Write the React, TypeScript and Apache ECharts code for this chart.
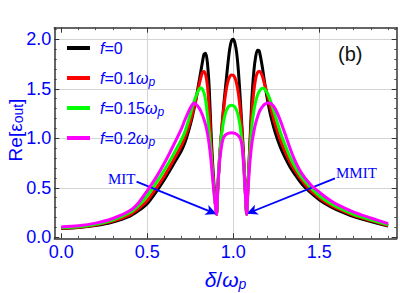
import React, { useEffect, useRef } from 'react';
import * as echarts from 'echarts';

const deltaValues = [
  0, 0.1, 0.2, 0.3, 0.4, 0.45, 0.5, 0.55, 0.6, 0.65,
  0.7, 0.72, 0.74, 0.76, 0.77, 0.78, 0.8, 0.81, 0.82, 0.83,
  0.84, 0.85, 0.86, 0.87, 0.88, 0.89, 0.895, 0.903, 0.91, 0.92,
  0.93, 0.94, 0.95, 0.96, 0.97, 0.98, 0.99, 1.0, 1.01, 1.02,
  1.03, 1.04, 1.05, 1.06, 1.07, 1.078, 1.085, 1.095, 1.105, 1.11,
  1.12, 1.13, 1.14, 1.15, 1.16, 1.17, 1.18, 1.19, 1.2, 1.21,
  1.22, 1.24, 1.26, 1.28, 1.3, 1.33, 1.36, 1.4, 1.45, 1.5,
  1.55, 1.6, 1.7, 1.8, 1.9,
];

const reF0 = [
  0.09, 0.1, 0.12, 0.155, 0.215, 0.27, 0.34, 0.455, 0.585, 0.73,
  0.88, 0.96, 1.07, 1.2, 1.28, 1.36, 1.56, 1.66, 1.76, 1.85,
  1.86, 1.76, 1.52, 1.1, 0.75, 0.48, 0.37, 0.23, 0.48, 0.78,
  1.02, 1.24, 1.43, 1.6, 1.77, 1.91, 1.985, 2.0, 1.96, 1.86,
  1.68, 1.42, 1.13, 0.83, 0.47, 0.23, 0.5, 0.88, 1.28, 1.45,
  1.68, 1.82, 1.89, 1.885, 1.81, 1.71, 1.59, 1.48, 1.38, 1.29,
  1.21, 1.08, 0.975, 0.885, 0.81, 0.71, 0.63, 0.535, 0.45, 0.38,
  0.325, 0.28, 0.21, 0.16, 0.115,
];

const reF01 = [
  0.092, 0.102, 0.125, 0.163, 0.23, 0.29, 0.37, 0.49, 0.62, 0.77,
  0.93, 1.01, 1.11, 1.23, 1.3, 1.37, 1.53, 1.6, 1.66, 1.675,
  1.64, 1.53, 1.3, 0.98, 0.68, 0.45, 0.36, 0.23, 0.49, 0.8,
  1.02, 1.22, 1.38, 1.5, 1.58, 1.625, 1.64, 1.638, 1.61, 1.55,
  1.45, 1.3, 1.08, 0.8, 0.47, 0.23, 0.5, 0.85, 1.18, 1.3,
  1.48, 1.6, 1.66, 1.677, 1.665, 1.625, 1.56, 1.5, 1.43, 1.36,
  1.29, 1.16, 1.05, 0.955, 0.87, 0.76, 0.67, 0.57, 0.47, 0.4,
  0.34, 0.295, 0.222, 0.168, 0.12,
];

const reF015 = [
  0.097, 0.107, 0.132, 0.175, 0.25, 0.32, 0.42, 0.545, 0.68, 0.83,
  0.99, 1.07, 1.18, 1.3, 1.36, 1.41, 1.49, 1.51, 1.5, 1.46,
  1.38, 1.24, 1.07, 0.87, 0.63, 0.43, 0.35, 0.23, 0.5, 0.8,
  1.0, 1.13, 1.22, 1.28, 1.315, 1.33, 1.335, 1.33, 1.315, 1.28,
  1.22, 1.12, 0.97, 0.76, 0.46, 0.23, 0.48, 0.8, 1.05, 1.15,
  1.28, 1.37, 1.43, 1.47, 1.495, 1.505, 1.5, 1.48, 1.45, 1.41,
  1.36, 1.25, 1.14, 1.03, 0.94, 0.81, 0.71, 0.6, 0.5, 0.42,
  0.36, 0.31, 0.233, 0.177, 0.127,
];

const reF02 = [
  0.105, 0.116, 0.143, 0.19, 0.27, 0.35, 0.47, 0.6, 0.75, 0.92,
  1.1, 1.19, 1.27, 1.335, 1.357, 1.35, 1.31, 1.28, 1.24, 1.19,
  1.13, 1.05, 0.94, 0.79, 0.6, 0.42, 0.34, 0.23, 0.5, 0.75,
  0.9, 0.99, 1.025, 1.04, 1.05, 1.054, 1.055, 1.054, 1.05, 1.04,
  1.025, 1.0, 0.94, 0.74, 0.45, 0.23, 0.45, 0.72, 0.9, 0.97,
  1.07, 1.15, 1.21, 1.26, 1.295, 1.32, 1.34, 1.35, 1.355, 1.357,
  1.35, 1.31, 1.24, 1.15, 1.05, 0.9, 0.77, 0.64, 0.53, 0.455,
  0.39, 0.335, 0.255, 0.195, 0.138,
];

const seriesNames = ['f=0', 'f=0.1ωp', 'f=0.15ωp', 'f=0.2ωp'];
const seriesColors = ['#000000', '#ff0000', '#00ff00', '#ff00ff'];
const seriesValues = [reF0, reF01, reF015, reF02];

const xMajorTicks = [0, 0.5, 1.0, 1.5];
const xMinorTicks = [0, 0.1, 0.2, 0.3, 0.4, 0.5, 0.6, 0.7, 0.8, 0.9, 1.0, 1.1, 1.2, 1.3, 1.4, 1.5, 1.6, 1.7, 1.8, 1.9];
const xGridLines = [0.5, 1.0, 1.5];
const yMajorTicks = [0, 0.5, 1.0, 1.5, 2.0];
const yMinorTicks = [0, 0.1, 0.2, 0.3, 0.4, 0.5, 0.6, 0.7, 0.8, 0.9, 1.0, 1.1, 1.2, 1.3, 1.4, 1.5, 1.6, 1.7, 1.8, 1.9, 2.0, 2.1];
const yGridLines = [0.5, 1.0, 1.5, 2.0];

const mitArrow = [[0.438, 0.562], [0.903, 0.235]];
const mmitArrow = [[1.591, 0.596], [1.078, 0.238]];

const X_MIN = -0.04;
const X_MAX = 1.95;
const Y_MIN = -0.01;
const Y_MAX = 2.117;

const BLUE = '#0000ff';
const FRAME = '#333333';
const SANS = 'Liberation Sans';

export default function App() {
  const ref = useRef<HTMLDivElement>(null);

  useEffect(() => {
    if (!ref.current) return;
    const chart = echarts.init(ref.current, undefined, { renderer: 'svg' });

    const frameLine = { show: true, onZero: false, lineStyle: { color: FRAME, width: 1.5 } };
    const noLine = { show: false, onZero: false };
    const majorTick = (vals: number[]) => ({ show: true, inside: true, length: 5, customValues: vals, lineStyle: { color: FRAME, width: 1 } });
    const minorTick = (vals: number[]) => ({ show: true, inside: true, length: 2.5, customValues: vals, lineStyle: { color: FRAME, width: 0.8 } });
    const noLabel = { show: false };
    const noSplit = { show: false };

    const xBase = { type: 'value', min: X_MIN, max: X_MAX, gridIndex: 0 };
    const yBase = { type: 'value', min: Y_MIN, max: Y_MAX, gridIndex: 0 };

    const legendRich = {
      i: { fontStyle: 'italic', fontSize: 16, fontFamily: SANS, color: BLUE, lineHeight: 20 },
      n: { fontSize: 16, fontFamily: SANS, color: BLUE, lineHeight: 20 },
      s: { fontStyle: 'italic', fontSize: 12, fontFamily: SANS, color: BLUE, verticalAlign: 'bottom', lineHeight: 10 },
    };

    const legendFormatter = (name: string) => {
      const m = name.match(/^f=([\d.]+)(ωp)?$/);
      if (!m) return name;
      return '{i|f}{n|=' + m[1] + '}' + (m[2] ? '{i|ω}{s|p}' : '');
    };

    const legends = seriesNames.map((name, k) => ({
      data: [name],
      orient: 'vertical',
      left: 67,
      top: 40 + 30 * k,
      padding: 0,
      icon: 'rect',
      itemWidth: 23,
      itemHeight: 4,
      selectedMode: false,
      formatter: legendFormatter,
      textStyle: {
        color: BLUE,
        fontFamily: SANS,
        fontSize: 16,
        padding: [0, 0, 0, 5],
        rich: legendRich,
      },
    }));

    const option: any = {
      animation: false,
      backgroundColor: '#ffffff',
      grid: { left: 54.3, right: 3.3, top: 27.7, bottom: 54.7, containLabel: false, outerBoundsMode: 'none' },
      legend: legends,
      xAxis: [
        {
          ...xBase,
          position: 'bottom',
          axisLine: frameLine,
          axisTick: majorTick(xMajorTicks),
          axisLabel: {
            customValues: xMajorTicks,
            formatter: (v: number) => v.toFixed(1),
            color: BLUE,
            fontFamily: SANS,
            fontSize: 18,
            margin: 5,
          },
          splitLine: noSplit,
          name: '{i|δ}{n|/}{i|ω}{s|p}',
          nameLocation: 'middle',
          nameGap: 29,
          nameTextStyle: {
            rich: {
              i: { fontStyle: 'italic', fontSize: 21, fontFamily: SANS, color: BLUE, lineHeight: 24 },
              n: { fontSize: 21, fontFamily: SANS, color: BLUE, lineHeight: 24 },
              s: { fontStyle: 'italic', fontSize: 14, fontFamily: SANS, color: BLUE, verticalAlign: 'bottom', lineHeight: 12 },
            },
          },
        },
        { ...xBase, position: 'bottom', axisLine: noLine, axisTick: minorTick(xMinorTicks), axisLabel: noLabel, splitLine: noSplit },
        { ...xBase, position: 'top', axisLine: frameLine, axisTick: majorTick(xMajorTicks), axisLabel: noLabel, splitLine: noSplit },
        { ...xBase, position: 'top', axisLine: noLine, axisTick: minorTick(xMinorTicks), axisLabel: noLabel, splitLine: noSplit },
        {
          ...xBase,
          position: 'bottom',
          axisLine: noLine,
          axisTick: { show: false, customValues: xGridLines },
          axisLabel: noLabel,
          splitLine: { show: true, lineStyle: { color: '#d4d4d4', width: 1 } },
        },
      ],
      yAxis: [
        {
          ...yBase,
          position: 'left',
          axisLine: frameLine,
          axisTick: majorTick(yMajorTicks),
          axisLabel: {
            customValues: yMajorTicks,
            formatter: (v: number) => v.toFixed(1),
            color: BLUE,
            fontFamily: SANS,
            fontSize: 18,
            margin: 3,
          },
          splitLine: noSplit,
        },
        { ...yBase, position: 'left', axisLine: noLine, axisTick: minorTick(yMinorTicks), axisLabel: noLabel, splitLine: noSplit },
        { ...yBase, position: 'right', axisLine: frameLine, axisTick: majorTick(yMajorTicks), axisLabel: noLabel, splitLine: noSplit },
        { ...yBase, position: 'right', axisLine: noLine, axisTick: minorTick(yMinorTicks), axisLabel: noLabel, splitLine: noSplit },
        {
          ...yBase,
          position: 'left',
          axisLine: noLine,
          axisTick: { show: false, customValues: yGridLines },
          axisLabel: noLabel,
          splitLine: { show: true, lineStyle: { color: '#d4d4d4', width: 1 } },
        },
      ],
      series: [
        ...seriesNames.map((name, k) => ({
          name,
          type: 'line',
          xAxisIndex: 0,
          yAxisIndex: 0,
          data: deltaValues.map((x, i) => [x, seriesValues[k][i]]),
          showSymbol: false,
          symbol: 'none',
          smooth: 0.25,
          color: seriesColors[k],
          itemStyle: { color: seriesColors[k] },
          lineStyle: { color: seriesColors[k], width: 3 },
          z: 2 + k,
          silent: true,
        })),
        {
          name: 'arrows',
          type: 'line',
          xAxisIndex: 0,
          yAxisIndex: 0,
          data: [],
          z: 10,
          silent: true,
          markLine: {
            silent: true,
            symbol: ['none', 'arrow'],
            symbolSize: [8, 11],
            label: { show: false },
            lineStyle: { type: 'solid', color: BLUE, width: 1.8 },
            data: [
              [{ coord: mitArrow[0] }, { coord: mitArrow[1] }],
              [{ coord: mmitArrow[0] }, { coord: mmitArrow[1] }],
            ],
          },
        },
      ],
      graphic: [
        {
          type: 'text',
          x: 15,
          y: 130,
          rotation: Math.PI / 2,
          style: {
            text: '{n|Re[}{n|ε}{s|out}{n|]}',
            align: 'center',
            verticalAlign: 'middle',
            rich: {
              n: { fontSize: 19, fontFamily: SANS, fill: BLUE, lineHeight: 19 },
              s: { fontSize: 14, fontFamily: SANS, fill: BLUE, verticalAlign: 'bottom', lineHeight: 12 },
            },
          },
        },
        {
          type: 'text',
          left: 338,
          top: 44,
          style: { text: '(b)', font: '20px "Liberation Sans"', fill: '#111111' },
        },
        {
          type: 'text',
          left: 108,
          top: 171,
          style: { text: 'MIT', font: '15px "Liberation Serif"', fill: BLUE },
        },
        {
          type: 'text',
          left: 336,
          top: 165,
          style: { text: 'MMIT', font: '15px "Liberation Serif"', fill: BLUE },
        },
      ],
    };

    chart.setOption(option);
    return () => chart.dispose();
  }, []);

  return (
    <div
      ref={ref}
      style={{ position: 'fixed', left: 0, top: 0, width: 400, height: 293, background: '#fff' }}
    />
  );
}
